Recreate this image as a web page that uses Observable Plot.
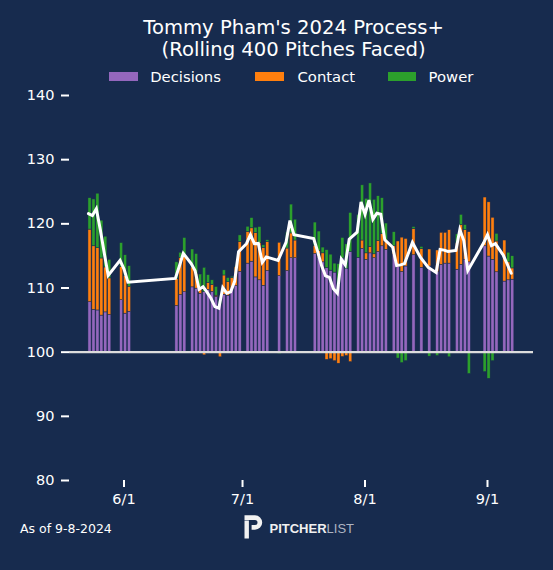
<!DOCTYPE html>
<html>
<head>
<meta charset="utf-8">
<script src="https://cdn.jsdelivr.net/npm/d3@7"></script>
<script src="https://cdn.jsdelivr.net/npm/@observablehq/plot@0.6"></script>
<style>
  html, body { margin: 0; padding: 0; background: #172b4e; }
  #wrap { position: relative; width: 553px; height: 570px; background: #172b4e; overflow: hidden;
          font-family: "DejaVu Sans", sans-serif; color: #ffffff; }
  #header { position: relative; height: 88px; }
  .abs { position: absolute; white-space: nowrap; line-height: 1; }
  .title { font-size: 19.6px; left: 293.6px; transform: translateX(-50%); }
  .sw { position: absolute; width: 28.7px; height: 9px; top: 72.3px; }
  .lg { font-size: 14.8px; top: 69.8px; }
  #chart { position: relative; height: 422px; }
  #chart svg [aria-label$="tick"] { stroke-width: 2px; }
  #footer { position: relative; height: 60px; }
</style>
</head>
<body>
<div id="wrap">
  <div id="header">
    <div class="abs title" style="top:18.4px">Tommy Pham's 2024 Process+</div>
    <div class="abs title" style="top:40.1px">(Rolling 400 Pitches Faced)</div>
  </div>
  <div id="chart"></div>
  <div id="footer"></div>
</div>
<script>
// ---- data ----
const components = ["Decisions", "Contact", "Power"];
const componentColors = ["#9467bd", "#ff7f0e", "#2ca02c"];

const dates = [
  "2024-05-23","2024-05-24","2024-05-25","2024-05-26","2024-05-27","2024-05-28","2024-05-31","2024-06-01","2024-06-02",
  "2024-06-14","2024-06-15","2024-06-16","2024-06-18","2024-06-19","2024-06-20","2024-06-21","2024-06-22","2024-06-23",
  "2024-06-24","2024-06-25","2024-06-26","2024-06-27","2024-06-28","2024-06-29","2024-06-30",
  "2024-07-02","2024-07-03","2024-07-04","2024-07-05","2024-07-06","2024-07-07",
  "2024-07-10","2024-07-12","2024-07-13","2024-07-14",
  "2024-07-19","2024-07-20","2024-07-21","2024-07-22","2024-07-23","2024-07-24","2024-07-25","2024-07-26","2024-07-27","2024-07-28",
  "2024-07-30","2024-07-31","2024-08-01","2024-08-02","2024-08-03","2024-08-04","2024-08-05","2024-08-06",
  "2024-08-08","2024-08-09","2024-08-10","2024-08-11",
  "2024-08-13","2024-08-15","2024-08-17",
  "2024-08-19","2024-08-20","2024-08-21","2024-08-22",
  "2024-08-24","2024-08-25","2024-08-26","2024-08-27",
  "2024-08-31","2024-09-01","2024-09-02","2024-09-03",
  "2024-09-05","2024-09-06","2024-09-07"
];

// contributions above / below the 100 baseline
const decisions = [
  7.8, 6.6, 6.5, 5.7, 6.2, 5.8, 8.1, 6.0, 6.3,
  7.2, 8.9, 9.35, 10.1, 9.9, 9.1, 9.35, 9.7, 9.4, 8.6, 7.4, 8.95, 8.8, 9.7, 10.3, 12.5,
  13.8, 14.1, 11.65, 11.2, 10.35, 12.65,
  11.85, 12.65, 14.65, 14.65,
  15.3, 14.8, 14.0, 13.1, 12.7, 12.4, 10.5, 14.6, 13.0, 15.6,
  14.7, 16.1, 14.4, 15.4, 14.65, 15.6, 16.5, 15.95,
  15.2, 13.25, 12.5, 13.35,
  15.1, 13.15, 13.35,
  12.45, 13.6, 13.8, 13.8,
  12.85, 13.6, 14.4, 14.0,
  16.5, 14.9, 14.4, 12.45,
  11.0, 11.2, 11.3
];
const contact = [
  11.3, 9.9, 9.7, 8.9, 7.0, 5.7, 5.2, 5.9, 3.9,
  4.2, 5.8, 5.45, 3.1, 2.3, 1.0, -0.5, 1.1, 1.1, 0.2, -0.8, 3.0, 2.1, 1.85, 3.0, 4.7,
  4.95, 5.2, 6.9, 5.8, 5.9, 4.5,
  5.2, 3.5, 3.85, 2.75,
  1.3, 1.0, 1.4, -1.2, -1.1, -1.4, -1.8, -0.75, -0.6, -1.55,
  -0.2, 1.3, 1.0, 1.0, 0.6, 1.7, 1.9, 1.4,
  1.3, 4.0, 5.35, 4.3,
  4.1, 2.9, 2.65,
  3.4, 5.0, 4.8, 5.2,
  4.15, 6.2, 4.6, 4.7,
  7.6, 8.45, 6.55, 4.8,
  6.4, 2.8, 1.75
];
const power = [
  4.9, 7.3, 8.5, 5.9, 4.8, 2.9, 3.7, 3.2, 3.2,
  2.6, 0.8, 3.0, 2.8, 3.1, 2.0, 3.8, 1.2, 0.7, 1.35, 0.6, 0.8, 0.65, 0.2, 0.1, 1.0,
  0.8, 1.6, 0.85, 2.5, 0.4, 0.3,
  -0.3, 2.5, 4.5, 3.25,
  3.6, 3.0, 0.9, 2.8, 2.5, 1.4, 3.2, 3.2, 3.8, 6.1,
  6.7, 8.6, 8.5, 9.9, 8.5, 7.0, 5.6, 2.7,
  2.2, -1.0, -1.7, -1.4,
  0.3, 0.35, -0.7,
  -0.6, 0.0, -0.25, -0.8,
  1.35, 1.6, 0.8, -3.4,
  -3.1, -4.15, -1.4, 1.2,
  0.0, 1.5, 1.9
];
// rolling Process+ (white line)
const processPlus = [
  121.6, 121.3, 122.35, 119.1, 115.45, 111.95, 114.3, 112.95, 110.9,
  111.5, 113.4, 115.4, 113.8, 112.7, 109.8, 110.2, 109.35, 108.4, 107.1, 106.85, 110.05, 109.2, 109.4, 111.05, 115.65,
  116.9, 118.3, 116.9, 116.95, 114.0, 114.85,
  114.3, 117.1, 120.5, 118.3,
  117.7, 115.7, 113.5, 111.9, 111.65, 109.9, 109.2, 114.5, 113.6, 117.6,
  118.7, 123.4, 121.5, 123.7, 120.7, 121.65, 121.5, 117.5,
  116.35, 113.5, 113.6, 113.8,
  117.1, 114.8, 113.2,
  112.4, 116.0, 115.9, 115.7,
  115.85, 119.1, 117.4, 112.7,
  117.0, 118.3, 116.6, 116.9,
  115.1, 113.7, 112.3
];

const yTickValues = [80, 90, 100, 110, 120, 130, 140];
const xTickDates = ["2024-06-01", "2024-07-01", "2024-08-01", "2024-09-01"];
const baseline = 100;

// ---- build tables ----
const parse = s => new Date(s + "T00:00:00Z");
const bars = [];
dates.forEach((s, i) => {
  const date = parse(s);
  bars.push({date, component: "Decisions", value: decisions[i]});
  bars.push({date, component: "Contact", value: contact[i]});
  bars.push({date, component: "Power", value: power[i]});
});
const line = dates.map((s, i) => ({date: parse(s), value: processPlus[i] - baseline}));

const bg = "#172b4e";

const chart = Plot.plot({
  width: 553,
  height: 422,
  marginTop: 7,
  marginBottom: 30,
  marginLeft: 69,
  marginRight: 20,
  style: {background: "transparent", color: "#ffffff", fontFamily: "DejaVu Sans, sans-serif", fontSize: "14.5px"},
  x: {
    type: "utc",
    domain: [new Date("2024-05-18T04:56:00Z"), new Date("2024-09-12T15:29:00Z")],
    ticks: xTickDates.map(parse),
    tickFormat: d3.utcFormat("%-m/%-d"),
    tickSize: 7,
    tickPadding: 6,
    label: null
  },
  y: {
    domain: [80 - baseline, 140 - baseline],
    ticks: yTickValues.map(v => v - baseline),
    tickFormat: d => String(d + baseline),
    tickSize: 8,
    tickPadding: 7,
    label: null
  },
  color: {domain: components, range: componentColors},
  marks: [
    Plot.rectY(bars, {
      x: "date",
      interval: d3.utcDay,
      y: "value",
      fill: "component",
      stroke: bg,
      strokeWidth: 0.5,
      insetRight: 0.8
    }),
    Plot.ruleY([0], {stroke: "#dcdcdc", strokeWidth: 2.2}),
    Plot.line(line, {x: "date", y: "value", stroke: "#ffffff", strokeWidth: 3, strokeLinejoin: "miter", strokeMiterlimit: 4})
  ]
});
document.getElementById("chart").appendChild(chart);

// ---- legend (HTML, above the svg) ----
const header = document.getElementById("header");
const legendPos = [{sw: 109, tx: 150.2}, {sw: 255, tx: 297.5}, {sw: 387.7, tx: 428.6}];
components.forEach((c, i) => {
  const sw = document.createElement("div");
  sw.className = "sw";
  sw.style.left = legendPos[i].sw + "px";
  sw.style.background = componentColors[i];
  header.appendChild(sw);
  const tx = document.createElement("div");
  tx.className = "abs lg";
  tx.style.left = legendPos[i].tx + "px";
  tx.textContent = c;
  header.appendChild(tx);
});

// ---- footer ----
const footer = document.getElementById("footer");
footer.innerHTML = `
  <div class="abs" style="left:20px; top:13px; font-size:12.5px;">As of 9-8-2024</div>
  <svg style="position:absolute; left:244px; top:5px;" width="20" height="24" viewBox="0 0 20 24">
    <rect x="0.5" y="5.5" width="4.4" height="18" fill="#f2f2f2"/>
    <path d="M0.5 0.3 H11 A7.2 7.2 0 0 1 11 14.7 H7.6 V10 H11 A2.5 2.5 0 0 0 11 5 H0.5 Z" fill="#f2f2f2"/>
  </svg>
  <div class="abs" style="left:269.5px; top:12px; font-size:13px; font-family:'Liberation Sans', Arial, sans-serif;">
    <span style="font-weight:bold; color:#f0f0f0;">PITCHER</span><span style="color:#aeb4c2;">LIST</span>
  </div>`;
</script>
</body>
</html>
